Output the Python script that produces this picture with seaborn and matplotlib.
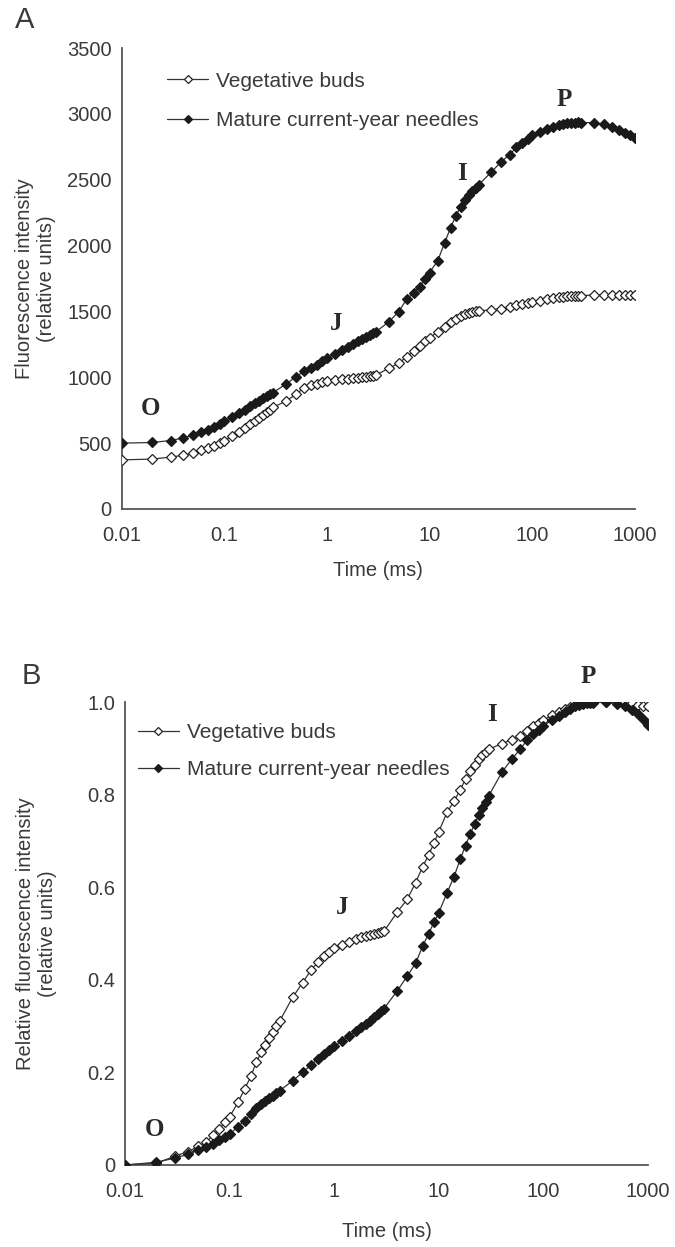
import matplotlib
matplotlib.use("Agg")
import matplotlib.pyplot as plt
import matplotlib.ticker as mticker
import seaborn as sns
import pandas as pd

# ---------------- data ----------------
time_ms = [0.01, 0.02, 0.03, 0.04, 0.05, 0.06, 0.07, 0.08, 0.09, 0.1,
           0.12, 0.14, 0.16, 0.18, 0.2, 0.22, 0.24, 0.26, 0.28, 0.3,
           0.4, 0.5, 0.6, 0.7, 0.8, 0.9, 1.0, 1.2, 1.4, 1.6, 1.8, 2.0, 2.2, 2.4, 2.6, 2.8, 3.0,
           4, 5, 6, 7, 8, 9, 10, 12, 14, 16, 18, 20, 22, 24, 26, 28, 30,
           40, 50, 60, 70, 80, 90, 100, 120, 140, 160, 180, 200, 220, 240, 260, 280, 300,
           400, 500, 600, 700, 800, 900, 1000]

series_names = ["Vegetative buds", "Mature current-year needles"]

# Panel A: absolute fluorescence
veg_abs = [373, 379, 394, 408, 426, 446, 461, 481, 500, 519,
           552, 585, 615, 645, 670, 692, 712, 735, 755, 772,
           820, 870, 922, 938, 952, 962, 970, 978, 984, 988, 992, 996, 1000, 1005, 1009, 1013, 1017,
           1068, 1106, 1156, 1196, 1235, 1275, 1300, 1345, 1385, 1420, 1445, 1465, 1477, 1487, 1495, 1500, 1505,
           1511, 1522, 1535, 1550, 1557, 1565, 1571, 1582, 1592, 1600, 1607, 1611, 1614, 1616, 1617, 1618, 1620,
           1625, 1626, 1625, 1624, 1623, 1622, 1622]
mat_abs = [500, 505, 520, 540, 562, 583, 600, 620, 642, 665,
           700, 728, 752, 780, 805, 822, 840, 856, 870, 884,
           949, 1004, 1045, 1068, 1095, 1120, 1145, 1178, 1205, 1230, 1252, 1272, 1290, 1306, 1320, 1333, 1346,
           1420, 1498, 1595, 1640, 1688, 1745, 1795, 1885, 2020, 2135, 2225, 2295, 2345, 2385, 2415, 2440, 2460,
           2560, 2637, 2690, 2745, 2780, 2810, 2840, 2866, 2886, 2900, 2912, 2922, 2928, 2932, 2934, 2936, 2934,
           2933, 2920, 2902, 2880, 2858, 2838, 2815]

# Panel B: relative fluorescence
veg_rel = [0.0, 0.004, 0.019, 0.029, 0.040, 0.050, 0.065, 0.078, 0.092, 0.104,
           0.135, 0.165, 0.192, 0.222, 0.243, 0.260, 0.274, 0.288, 0.300, 0.310,
           0.362, 0.394, 0.421, 0.438, 0.451, 0.460, 0.468, 0.475, 0.482, 0.488, 0.492, 0.495, 0.497, 0.499, 0.501, 0.503, 0.505,
           0.546, 0.574, 0.610, 0.644, 0.670, 0.695, 0.720, 0.762, 0.786, 0.810, 0.833, 0.850, 0.865, 0.876, 0.885, 0.892, 0.898,
           0.910, 0.919, 0.926, 0.938, 0.948, 0.955, 0.961, 0.971, 0.979, 0.985, 0.990, 0.994, 0.996, 0.998, 0.999, 1.0, 1.0,
           1.0, 1.0, 1.0, 0.997, 0.994, 0.992, 0.991]
mat_rel = [0.0, 0.006, 0.015, 0.023, 0.033, 0.038, 0.046, 0.053, 0.060, 0.066,
           0.083, 0.096, 0.110, 0.123, 0.132, 0.139, 0.145, 0.150, 0.155, 0.160,
           0.182, 0.200, 0.216, 0.229, 0.240, 0.249, 0.256, 0.268, 0.279, 0.289, 0.297, 0.305, 0.312, 0.319, 0.326, 0.332, 0.338,
           0.376, 0.408, 0.436, 0.472, 0.500, 0.524, 0.545, 0.588, 0.623, 0.660, 0.690, 0.715, 0.737, 0.755, 0.770, 0.785, 0.797,
           0.848, 0.877, 0.898, 0.918, 0.931, 0.940, 0.948, 0.961, 0.970, 0.978, 0.985, 0.991, 0.994, 0.996, 0.997, 0.998, 0.998,
           1.0, 0.996, 0.991, 0.983, 0.974, 0.963, 0.951]

xtick_vals = [0.01, 0.1, 1, 10, 100, 1000]
xtick_labels = ["0.01", "0.1", "1", "10", "100", "1000"]
yticks_a = [0, 500, 1000, 1500, 2000, 2500, 3000, 3500]
yticks_b = [0, 0.2, 0.4, 0.6, 0.8, 1.0]
yticklabels_b = ["0", "0.2", "0.4", "0.6", "0.8", "1.0"]

phase_labels = ["O", "J", "I", "P"]
phase_pos_a = [(0.019, 760), (1.24, 1410), (20.5, 2550), (204, 3110)]
phase_pos_b = [(0.019, 0.076), (1.2, 0.556), (32, 0.972), (270, 1.056)]

# ---------------- style ----------------
sns.set_theme(style="white")
plt.rcParams["font.family"] = ["Liberation Sans", "DejaVu Sans"]
TXT = "#3a3a3a"
SPINE = "#555555"
LINE = "#333333"

W, H = 675, 1247
fig = plt.figure(figsize=(W / 100, H / 100), dpi=100)
fig.patch.set_facecolor("white")

axA = fig.add_axes([121.5 / W, 1 - 509 / H, (635 - 121.5) / W, (509 - 48) / H])
axB = fig.add_axes([125 / W, 1 - 1165 / H, (648 - 125) / W, (1165 - 702) / H])


def draw(ax, veg, mat):
    df_v = pd.DataFrame({"time": time_ms, "value": veg})
    df_m = pd.DataFrame({"time": time_ms, "value": mat})
    sns.lineplot(data=df_v, x="time", y="value", ax=ax, color=LINE, lw=0.9,
                 marker="D", ms=4.6, mfc="white", mec="#222222", mew=0.9,
                 label=series_names[0], zorder=3)
    sns.lineplot(data=df_m, x="time", y="value", ax=ax, color=LINE, lw=0.9,
                 marker="D", ms=4.6, mfc="#1a1a1a", mec="#1a1a1a", mew=0.9,
                 label=series_names[1], zorder=3)
    ax.set_xscale("log")
    ax.set_xlim(0.01, 1000)
    ax.xaxis.set_major_locator(mticker.FixedLocator(xtick_vals))
    ax.xaxis.set_minor_locator(mticker.NullLocator())
    ax.set_xticks(xtick_vals)
    ax.set_xticklabels(xtick_labels)
    for s in ["top", "right"]:
        ax.spines[s].set_visible(False)
    for s in ["left", "bottom"]:
        ax.spines[s].set_color(SPINE)
        ax.spines[s].set_linewidth(1.3)
    ax.tick_params(axis="x", direction="out", length=3, width=1.3, color=SPINE,
                   labelsize=14.5, labelcolor=TXT, pad=9)
    ax.tick_params(axis="y", direction="out", length=3, width=1.3, color=SPINE,
                   labelsize=14.5, labelcolor=TXT, pad=4)
    ax.grid(False)
    ax.set_facecolor("white")


draw(axA, veg_abs, mat_abs)
axA.set_ylim(0, 3500)
axA.set_yticks(yticks_a)
axA.set_yticklabels([str(v) for v in yticks_a])
axA.set_xlabel("Time (ms)", fontsize=14.5, color=TXT)
axA.set_ylabel("Fluorescence intensity\n(relative units)", fontsize=14.5, color=TXT)
axA.xaxis.set_label_coords(0.5, -0.112)
axA.yaxis.set_label_coords(-0.127, 0.5)
axA.legend(loc="upper left", bbox_to_anchor=(0.088, 0.949), frameon=False,
           fontsize=15, borderpad=0, handlelength=2.0, handletextpad=0.35,
           labelspacing=1.0, labelcolor=TXT, borderaxespad=0, markerscale=0.8)

draw(axB, veg_rel, mat_rel)
axB.set_ylim(0, 1.0)
axB.set_yticks(yticks_b)
axB.set_yticklabels(yticklabels_b)
axB.set_xlabel("Time (ms)", fontsize=14.5, color=TXT)
axB.set_ylabel("Relative fluorescence intensity\n(relative units)", fontsize=14.5, color=TXT)
axB.xaxis.set_label_coords(0.5, -0.123)
axB.yaxis.set_label_coords(-0.13, 0.5)
axB.legend(loc="upper left", bbox_to_anchor=(0.024, 0.955), frameon=False,
           fontsize=15, borderpad=0, handlelength=2.0, handletextpad=0.35,
           labelspacing=0.89, labelcolor=TXT, borderaxespad=0, markerscale=0.8)

for ax, pos in [(axA, phase_pos_a), (axB, phase_pos_b)]:
    for lab, (x, y) in zip(phase_labels, pos):
        ax.text(x, y, lab, ha="center", va="center", fontsize=18, fontweight="bold",
                family="Liberation Serif", color="#2a2a2a", clip_on=False)

fig.text(25 / W, 1 - 20 / H, "A", ha="center", va="center", fontsize=21, color=TXT)
fig.text(31 / W, 1 - 676 / H, "B", ha="center", va="center", fontsize=21, color=TXT)

fig.savefig("out.png", dpi=100, facecolor="white")
